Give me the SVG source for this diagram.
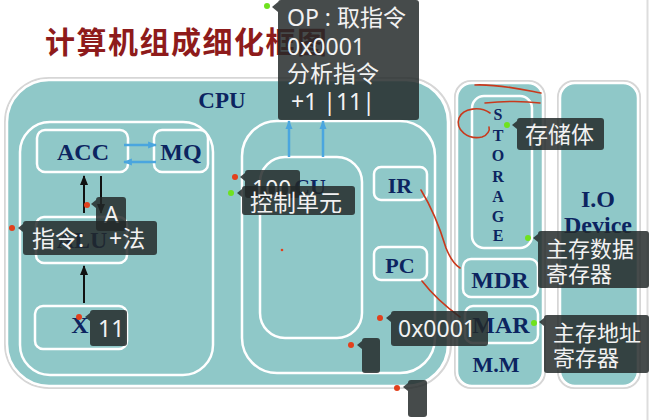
<svg xmlns="http://www.w3.org/2000/svg" width="649" height="420" viewBox="0 0 649 420">
<style>
.box{fill:#8fc8c8;stroke:#fff;stroke-width:2.5}
.shadow{fill:none;stroke:#d6d6d6;stroke-width:2}
.lbl{font-family:"Liberation Serif",serif;font-weight:bold;fill:#0c2460;text-anchor:middle}
.tip{fill:#232828;fill-opacity:0.84}
.tt{font-family:"Noto Sans","Noto Sans CJK SC",sans-serif;fill:#f2f2f2;font-size:23px}
.t2{font-size:22px}
.red{fill:#e2401c}
.grn{fill:#6fe21e}
.ink{fill:none;stroke:#c9391c;stroke-width:1.6;stroke-linecap:round}
.blk{stroke:#111;stroke-width:2;fill:none}
.blu{stroke:#4aa6df;stroke-width:2.5;fill:none}
</style>
<defs>
<marker id="ab" viewBox="0 0 10 10" refX="9" refY="5" markerWidth="5" markerHeight="5" orient="auto"><path d="M0,1 L10,5 L0,9 z" fill="#111"/></marker>
<marker id="au" viewBox="0 0 10 10" refX="9" refY="5" markerWidth="3.5" markerHeight="3.5" orient="auto"><path d="M0,1 L10,5 L0,9 z" fill="#4aa6df"/></marker>
</defs>
<rect width="649" height="420" fill="#fff"/>
<line x1="647.5" y1="0" x2="647.5" y2="420" stroke="#ddd" stroke-width="2"/>
<text x="45" y="53" font-family="'Noto Sans CJK SC',sans-serif" font-weight="bold" font-size="30" letter-spacing="1.5" fill="#8e1b1b">计算机组成细化框图</text>

<g id="cpu">
<rect class="shadow" x="5" y="78" width="446" height="310" rx="44"/>
<rect class="box" x="7" y="80" width="441" height="306" rx="42"/>
<text class="lbl" x="222" y="108" font-size="23">CPU</text>
</g>
<g id="alu-area"><rect class="box" x="20" y="122" width="193" height="253" rx="30"/></g>
<g id="acc"><rect class="box" x="37" y="130" width="91" height="42" rx="8"/><text class="lbl" x="83" y="160" font-size="24">ACC</text></g>
<g id="mq"><rect class="box" x="154" y="130" width="54" height="42" rx="8"/><text class="lbl" x="181" y="160" font-size="24">MQ</text></g>
<g id="alu"><rect class="box" x="36" y="217" width="91" height="46" rx="8"/><text class="lbl" x="82" y="248" font-size="24">ALU</text></g>
<g id="x"><rect class="box" x="35" y="306" width="92" height="43" rx="8"/><text class="lbl" x="80" y="333" font-size="24">X</text></g>
<g id="cu-area"><rect class="box" x="242" y="121" width="193" height="252" rx="35"/></g>
<g id="cu"><rect class="box" x="260" y="157" width="102" height="181" rx="25"/><text class="lbl" x="310" y="194" font-size="22">CU</text></g>
<g id="ir"><rect class="box" x="374" y="167" width="53" height="33" rx="7"/><text class="lbl" x="400" y="193" font-size="22">IR</text></g>
<g id="pc"><rect class="box" x="374" y="247" width="53" height="33" rx="7"/><text class="lbl" x="400" y="273" font-size="22">PC</text></g>
<g id="mm">
<rect class="shadow" x="455" y="81" width="90" height="307" rx="16"/>
<rect class="box" x="457" y="83" width="86" height="303" rx="15"/>
<text class="lbl" x="496" y="372" font-size="22">M.M</text>
</g>
<g id="storage">
<rect class="box" x="472" y="96" width="60" height="152" rx="12"/>
<g class="lbl" font-size="16">
<text x="498" y="120">S</text><text x="498" y="141">T</text><text x="498" y="161">O</text><text x="498" y="182">R</text><text x="498" y="202">A</text><text x="498" y="222">G</text><text x="498" y="241">E</text>
</g>
</g>
<g id="mdr"><rect class="box" x="463" y="259" width="75" height="38" rx="8"/><text class="lbl" x="500" y="288" font-size="24">MDR</text></g>
<g id="mar"><rect class="box" x="465" y="306" width="73" height="37" rx="8"/><text class="lbl" x="501" y="333" font-size="24">MAR</text></g>
<g id="io">
<rect class="shadow" x="558" y="81" width="82" height="307" rx="16"/>
<rect class="box" x="560" y="83" width="78" height="303" rx="15"/>
<text class="lbl" x="598" y="207" font-size="24">I.O</text>
<text class="lbl" x="598" y="233" font-size="24">Device</text>
</g>

<g id="connectors">
<line class="blk" x1="84" y1="213" x2="84" y2="176" marker-end="url(#ab)"/>
<line class="blk" x1="101" y1="176" x2="101" y2="213" marker-end="url(#ab)"/>
<line class="blk" x1="84" y1="303" x2="84" y2="266" marker-end="url(#ab)"/>
<line class="blu" x1="124" y1="145" x2="156" y2="145" marker-end="url(#au)"/>
<line class="blu" x1="156" y1="162" x2="124" y2="162" marker-end="url(#au)"/>
<line class="blu" x1="289" y1="157" x2="289" y2="121" marker-end="url(#au)"/>
<line class="blu" x1="323" y1="157" x2="323" y2="121" marker-end="url(#au)"/>
</g>

<g id="ink">
<path class="ink" d="M475,85 C500,84 525,90 541,93"/>
<path class="ink" d="M485,103 C505,101 525,101 540,103"/>
<path class="ink" d="M490,113 C480,106 463,108 459,118 C455,130 468,140 482,137 C488,135 490,130 489,127"/>
<path class="ink" d="M421,190 C432,208 440,228 446,248 C450,258 455,265 460,268"/>
<path class="ink" d="M422,281 C432,294 445,306 460,317"/>
<circle class="red" cx="282" cy="250" r="1.3"/>
</g>

<g id="tips">
<rect class="tip" x="278" y="0" width="141" height="120" rx="3"/>
<path class="tip" d="M278,2 L272,7 L278,12 z"/>
<circle class="grn" cx="267" cy="6" r="3"/>
<text class="tt" x="287" y="26">OP : 取指令</text>
<text class="tt" x="287" y="55">0x0001</text>
<text class="tt" x="287" y="82">分析指令</text>
<text class="tt" x="291" y="110">+1 |11|</text>

<rect class="tip" x="517" y="118" width="87" height="32" rx="3"/>
<path class="tip" d="M517,121 L512,125 L517,129 z"/>
<circle class="grn" cx="507" cy="125" r="3"/>
<text class="tt" x="525" y="143">存储体</text>

<rect class="tip" x="538" y="231" width="111" height="57" rx="3"/>
<path class="tip" d="M538,234 L533,238 L538,242 z"/>
<circle class="grn" cx="528" cy="238" r="3"/>
<text class="tt t2" x="546" y="257">主存数据</text>
<text class="tt t2" x="546" y="282">寄存器</text>

<rect class="tip" x="544" y="315" width="105" height="58" rx="3"/>
<path class="tip" d="M544,318 L539,322 L544,326 z"/>
<circle class="grn" cx="534" cy="323" r="3"/>
<text class="tt t2" x="553" y="341">主存地址</text>
<text class="tt t2" x="553" y="366">寄存器</text>

<rect class="tip" x="391" y="311" width="97" height="35" rx="3"/>
<path class="tip" d="M391,314 L386,318 L391,322 z"/>
<circle class="red" cx="380" cy="318" r="3"/>
<text class="tt" x="398" y="337">0x0001</text>

<rect class="tip" x="362" y="338" width="18" height="35" rx="3"/>
<path class="tip" d="M362,341 L357,345 L362,349 z"/>
<circle class="red" cx="351" cy="345" r="3"/>

<rect class="tip" x="408" y="380" width="19" height="37" rx="3"/>
<path class="tip" d="M408,383 L403,387 L408,391 z"/>
<circle class="red" cx="397" cy="388" r="3"/>

<rect class="tip" x="245" y="170" width="55" height="28" rx="3"/>
<path class="tip" d="M245,173 L240,177 L245,181 z"/>
<circle class="red" cx="235" cy="177" r="3"/>
<text class="tt" x="252" y="197">100</text>

<rect class="tip" x="242" y="186" width="113" height="29" rx="3"/>
<path class="tip" d="M242,189 L237,193 L242,197 z"/>
<circle class="grn" cx="231" cy="193" r="3"/>
<text class="tt" x="250" y="211">控制单元</text>

<rect class="tip" x="96" y="197" width="30" height="34" rx="3"/>
<path class="tip" d="M96,200 L91,204 L96,208 z"/>
<circle class="red" cx="87" cy="205" r="3"/>
<text class="tt" x="104" y="223">A</text>

<rect class="tip" x="23" y="221" width="134" height="34" rx="3"/>
<path class="tip" d="M23,224 L18,228 L23,232 z"/>
<circle class="red" cx="12" cy="228" r="3"/>
<text class="tt" x="32" y="247">指令:</text>
<text class="tt" x="109" y="247">+法</text>

<rect class="tip" x="90" y="310" width="37" height="36" rx="3"/>
<path class="tip" d="M90,313 L85,317 L90,321 z"/>
<circle class="red" cx="79" cy="317" r="3"/>
<text class="tt" x="98" y="337">11</text>
</g>
</svg>
